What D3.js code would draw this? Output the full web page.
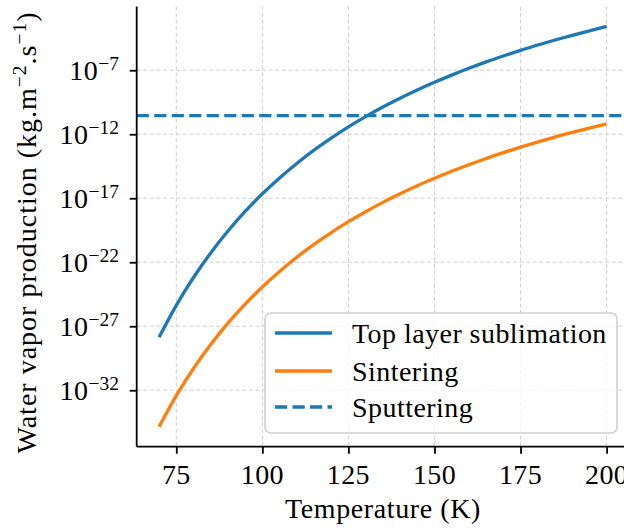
<!DOCTYPE html>
<html><head><meta charset="utf-8">
<script src="https://cdn.jsdelivr.net/npm/d3@7"></script>
<style>
body{margin:0;background:#fff}
text{font-family:"Liberation Serif","Times New Roman",serif;fill:#000}
</style>
</head><body><svg id="c" width="624" height="528"></svg>
<script>
// ---- data ----
const temperatures = [70,75,80,85,90,95,100,105,110,115,120,125,130,135,140,145,150,155,160,165,170,175,180,185,190,195,200];
// log10 of production rate (kg m^-2 s^-1)
const sublimationExp = [-27.86,-25.37,-23.19,-21.27,-19.56,-18.03,-16.65,-15.41,-14.28,-13.24,-12.30,-11.42,-10.62,-9.87,-9.18,-8.54,-7.94,-7.38,-6.85,-6.35,-5.89,-5.45,-5.03,-4.64,-4.27,-3.92,-3.58];
const sinteringExp = [-34.85,-32.42,-30.30,-28.43,-26.76,-25.27,-23.93,-22.72,-21.61,-20.61,-19.68,-18.83,-18.05,-17.32,-16.65,-16.02,-15.44,-14.89,-14.38,-13.89,-13.44,-13.01,-12.61,-12.22,-11.86,-11.52,-11.19];
const sputteringExp = -10.55;
const xTicks = [75,100,125,150,175,200];
const yTickExps = [-7,-12,-17,-22,-27,-32];
const seriesNames = ["Top layer sublimation","Sintering","Sputtering"];
const seriesColors = ["#1f77b4","#ff7f0e","#1f77b4"];

// ---- layout ----
const L = 136.7, R = 629, T = 6.5, B = 446.7;
const FS = 28, SUP = 19.5;
const svg = d3.select("#c");
svg.append("rect").attr("width",624).attr("height",528).attr("fill","#fff");

const x = d3.scaleLinear().domain([63.5, 206.5]).range([L, R]);
const y = d3.scaleLog().domain([Math.pow(10,-36.41), Math.pow(10,-2.02)]).range([B, T]);

// grid
const grid = svg.append("g").attr("stroke","#cfcfcf").attr("stroke-width",1).attr("stroke-dasharray","4,2.6");
xTicks.forEach(t => grid.append("line").attr("x1",x(t)).attr("x2",x(t)).attr("y1",T).attr("y2",B));
yTickExps.forEach(e => grid.append("line").attr("x1",L).attr("x2",R).attr("y1",y(Math.pow(10,e))).attr("y2",y(Math.pow(10,e))));

// series
const line = d3.line().x(d => x(d[0])).y(d => y(Math.pow(10,d[1]))).curve(d3.curveMonotoneX);
const subl = temperatures.map((t,i) => [t, sublimationExp[i]]);
const sint = temperatures.map((t,i) => [t, sinteringExp[i]]);
svg.append("line").attr("x1",L).attr("x2",R)
  .attr("y1",y(Math.pow(10,sputteringExp))).attr("y2",y(Math.pow(10,sputteringExp)))
  .attr("stroke",seriesColors[2]).attr("stroke-width",3.3).attr("stroke-dasharray","12.2,5.3");
svg.append("path").datum(subl).attr("d",line).attr("fill","none").attr("stroke",seriesColors[0]).attr("stroke-width",3.3).attr("stroke-linecap","butt");
svg.append("path").datum(sint).attr("d",line).attr("fill","none").attr("stroke",seriesColors[1]).attr("stroke-width",3.3).attr("stroke-linecap","butt");

// axes
const xAxis = d3.axisBottom(x).tickValues(xTicks).tickSize(7).tickFormat("");
const gx = svg.append("g").attr("transform",`translate(0,${B})`).call(xAxis);
gx.select(".domain").attr("d",`M${L},0H${R}`).attr("stroke","#000").attr("stroke-width",1.8);
gx.selectAll(".tick line").attr("stroke","#000").attr("stroke-width",1.8);
xTicks.forEach(t => svg.append("text").attr("x",x(t)).attr("y",484).attr("text-anchor","middle")
  .attr("font-size",FS).attr("letter-spacing",0.4).text(t));

const yAxis = d3.axisLeft(y).tickValues(yTickExps.map(e => Math.pow(10,e))).tickSize(7).tickFormat("");
const gy = svg.append("g").attr("transform",`translate(${L},0)`).call(yAxis);
gy.select(".domain").attr("d",`M0,${T}V${B}`).attr("stroke","#000").attr("stroke-width",1.8);
gy.selectAll(".tick line").attr("stroke","#000").attr("stroke-width",1.8);
yTickExps.forEach(e => {
  const yy = y(Math.pow(10,e));
  const t = svg.append("text").attr("x",119).attr("y",yy+9.7).attr("text-anchor","end").attr("font-size",FS);
  t.append("tspan").attr("letter-spacing",0.5).text("10");
  t.append("tspan").attr("dy",-10).attr("font-size",SUP).text("\u2212" + Math.abs(e));
});

// axis labels
svg.append("text").attr("x",383).attr("y",518).attr("text-anchor","middle").attr("font-size",FS)
  .attr("letter-spacing",0.6).text("Temperature (K)");
const yl = svg.append("text").attr("transform","translate(36,232.5) rotate(-90)").attr("text-anchor","middle")
  .attr("font-size",FS).attr("letter-spacing",1.0);
yl.append("tspan").text("Water vapor production (kg.m");
yl.append("tspan").attr("dy",-10).attr("font-size",SUP).text("\u22122");
yl.append("tspan").attr("dy",10).text(".s");
yl.append("tspan").attr("dy",-10).attr("font-size",SUP).text("\u22121");
yl.append("tspan").attr("dy",10).text(")");

// legend
const lg = svg.append("g");
lg.append("rect").attr("x",265).attr("y",313).attr("width",352).attr("height",120).attr("rx",6)
  .attr("fill","#fff").attr("fill-opacity",0.8).attr("stroke","#d0d0d0").attr("stroke-width",1.6);
const rowsY = [333, 371, 407];
seriesNames.forEach((n,i) => {
  const ln = lg.append("line").attr("x1",275).attr("x2",332).attr("y1",rowsY[i]).attr("y2",rowsY[i])
    .attr("stroke",seriesColors[i]).attr("stroke-width",3.3);
  if (i === 2) ln.attr("stroke-dasharray","12.2,5.3");
  lg.append("text").attr("x",352).attr("y",rowsY[i]+9.5).attr("font-size",FS).attr("letter-spacing",0.45).text(n);
});
</script></body></html>
